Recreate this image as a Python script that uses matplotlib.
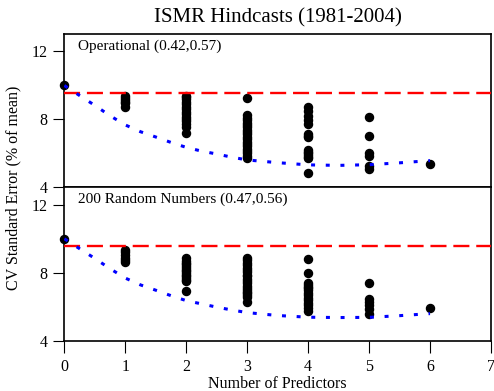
import matplotlib.pyplot as plt

plt.rcParams['font.family'] = ['Liberation Serif', 'DejaVu Serif']

# Number of predictors and the standard errors of each subset model
ops_n = [0, 1, 2, 3, 4, 5, 6]
ops_err = [
    [10.0],
    [9.38, 9.28, 9.15, 9.05, 8.95, 8.72],
    [9.38, 9.3, 9.2, 9.05, 8.9, 8.75, 8.6, 8.45, 8.3, 8.15, 8.0, 7.9, 7.75, 7.55, 7.2],
    [9.28, 8.24, 8.1, 7.96, 7.82, 7.68, 7.54, 7.4, 7.26, 7.12, 6.98, 6.84, 6.7,
     6.56, 6.42, 6.28, 6.14, 6.0, 5.85, 5.71],
    [8.72, 8.5, 8.22, 7.95, 7.76, 7.15, 7.05, 6.95, 6.2, 6.1, 6.0, 5.9, 5.8, 5.72, 4.85],
    [8.12, 7.05, 6.05, 5.85, 5.25, 5.1],
    [5.4],
]

rand_n = [0, 1, 2, 3, 4, 5, 6]
rand_err = [
    [10.0],
    [9.35, 9.2, 9.05, 8.9, 8.78, 8.65],
    [8.9, 8.7, 8.6, 8.5, 8.4, 8.3, 8.2, 8.1, 8.0, 7.9, 7.8, 7.7, 7.6, 7.55, 6.93],
    [8.9, 8.75, 8.6, 8.45, 8.3, 8.2, 8.05, 7.9, 7.8, 7.65, 7.5, 7.4, 7.25, 7.1,
     7.0, 6.9, 6.8, 6.7, 6.6, 6.3],
    [8.84, 8.02, 7.4, 7.3, 7.2, 7.1, 7.0, 6.85, 6.7, 6.55, 6.4, 6.25, 6.1, 5.95, 5.75],
    [7.42, 6.45, 6.3, 6.15, 5.9, 5.58],
    [5.92],
]

# expected error curve versus number of predictors
curve_x = [0, 0.25, 0.5, 0.75, 1.0, 1.25, 1.5, 1.75, 2.0, 2.25, 2.5, 2.75,
           3.0, 3.5, 4.0, 4.5, 5.0, 5.5, 6.0]
ops_curve = [10.0, 9.41, 8.83, 8.22, 7.68, 7.28, 6.97, 6.65, 6.36, 6.14, 5.97,
             5.78, 5.62, 5.46, 5.33, 5.30, 5.34, 5.45, 5.58]
rand_curve = [10.0, 9.42, 8.85, 8.25, 7.7, 7.3, 6.99, 6.67, 6.38, 6.19, 6.0,
              5.83, 5.68, 5.51, 5.41, 5.39, 5.40, 5.50, 5.62]

clim_err = 9.58

panels = [
    ("Operational (0.42,0.57)", ops_n, ops_err, ops_curve),
    ("200 Random Numbers (0.47,0.56)", rand_n, rand_err, rand_curve),
]

fig = plt.figure(figsize=(4.94, 3.91), dpi=100)
ax_top = fig.add_axes([0.1302, 0.5205, 0.8637, 0.3913])
ax_bot = fig.add_axes([0.1302, 0.1271, 0.8637, 0.3934])

for ax, (label, nvals, errs, curve) in zip([ax_top, ax_bot], panels):
    for n, e in zip(nvals, errs):
        ax.plot([n] * len(e), e, 'o', color='black', ms=5.8, mec='black',
                clip_on=False, zorder=2)
    ax.axhline(clim_err, color='red', lw=1.7, linestyle=(0, (6.8, 2.9)), zorder=3)
    ax.plot(curve_x, curve, color='blue', lw=2.2, linestyle=(0, (1.3, 3.5)),
            dash_capstyle='butt', zorder=4)
    ax.text(0.22, 12.3, label, fontsize=11, va='center', ha='left')
    ax.set_xlim(0, 7)
    ax.set_ylim(4, 13)
    ax.set_yticks([4, 8, 12])
    ax.tick_params(axis='y', length=8, width=0.8, pad=4, labelsize=11.5)
    ax.tick_params(axis='x', length=8.6, width=0.8, pad=4, labelsize=11.5)
    for s in ax.spines.values():
        s.set_linewidth(1.2)

ax_top.set_xticks([])
ax_bot.set_xticks(range(8))
ax_top.set_title("ISMR Hindcasts (1981-2004)", fontsize=15, pad=9)

fig.text(0.028, 0.52, "CV Standard Error (% of mean)", rotation=90,
         ha='center', va='center', fontsize=11.5)
fig.text(0.562, 0.019, "Number of Predictors", ha='center', va='center',
         fontsize=11.5)

fig.savefig("out.png", dpi=100)
